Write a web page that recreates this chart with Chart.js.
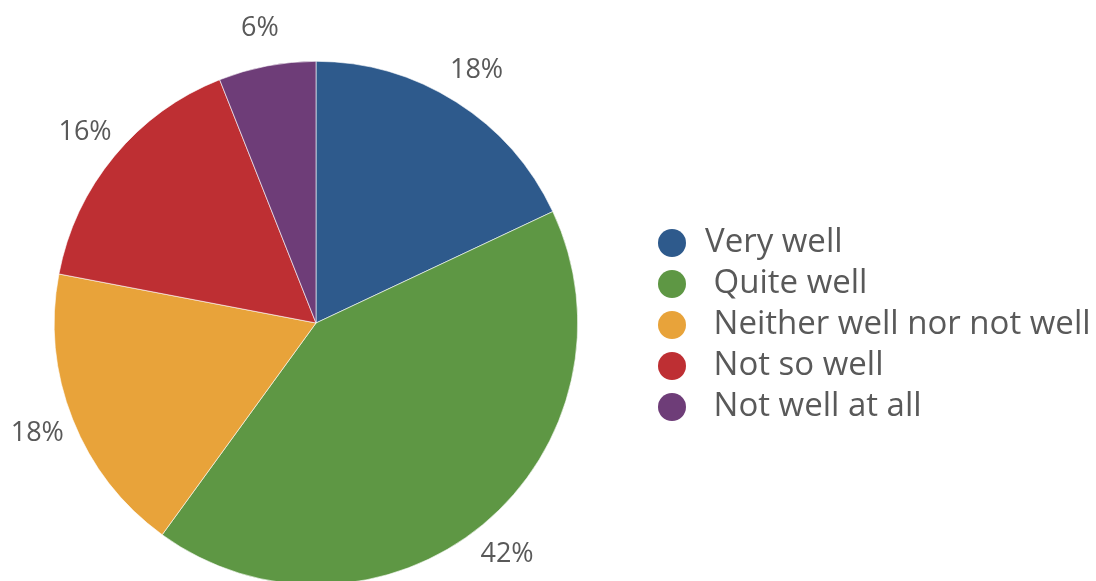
<!DOCTYPE html>
<html>
<head>
<meta charset="utf-8">
<title>How well</title>
<script src="https://cdn.jsdelivr.net/npm/chart.js@4/dist/chart.umd.min.js"></script>
<style>
  html, body { margin: 0; padding: 0; background: #fff; overflow: hidden; }
  #wrap { width: 1096px; height: 600px; }
</style>
</head>
<body>
<div id="wrap"><canvas id="grafico" width="1096" height="600"></canvas></div>
<script>
// Respuestas (porcentaje)
const categorias = ['Very well', ' Quite well', ' Neither well nor not well', ' Not so well', ' Not well at all'];
const valores = [18, 42, 18, 16, 6];
const colores = ['#2E5A8C', '#5E9744', '#E8A33A', '#BE2F33', '#6E3D78'];

const colorTexto = '#595959';

// Etiquetas de porcentaje fuera de cada sector
const etiquetasPorcentaje = {
    id: 'etiquetasPorcentaje',
    afterDatasetsDraw(chart) {
        const ctx = chart.ctx;
        const meta = chart.getDatasetMeta(0);
        const total = valores.reduce((a, b) => a + b, 0);
        ctx.save();
        ctx.font = '27px "Open Sans"';
        ctx.fillStyle = colorTexto;
        ctx.textAlign = 'center';
        ctx.textBaseline = 'middle';
        meta.data.forEach((arc, i) => {
            const p = arc.getProps(['x', 'y', 'startAngle', 'endAngle', 'outerRadius'], true);
            const medio = (p.startAngle + p.endAngle) / 2;
            const r = p.outerRadius + 38;
            const texto = Math.round(valores[i] / total * 100) + '%';
            ctx.fillText(texto, p.x + Math.cos(medio) * r, p.y + Math.sin(medio) * r);
        });
        ctx.restore();
    }
};

// Leyenda a la derecha con marcadores circulares
const leyenda = {
    id: 'leyenda',
    afterDraw(chart) {
        const ctx = chart.ctx;
        ctx.save();
        ctx.font = '33px "Open Sans"';
        ctx.textBaseline = 'middle';
        ctx.textAlign = 'left';
        chart.data.labels.forEach((etiqueta, i) => {
            const y = 243 + i * 41;
            ctx.beginPath();
            ctx.arc(672, y, 14, 0, Math.PI * 2);
            ctx.fillStyle = colores[i];
            ctx.fill();
            ctx.fillStyle = colorTexto;
            ctx.fillText(etiqueta, 705, y);
        });
        ctx.restore();
    }
};

const ctx = document.getElementById('grafico').getContext('2d');

new Chart(ctx, {
    type: 'pie',
    data: {
        labels: categorias,
        datasets: [{
            data: valores,
            backgroundColor: colores,
            borderColor: '#ffffff',
            borderWidth: 0.6
        }]
    },
    options: {
        responsive: false,
        animation: false,
        layout: {
            padding: { left: 54, top: 61, right: 518, bottom: 15 }
        },
        plugins: {
            legend: { display: false },
            tooltip: { enabled: false }
        }
    },
    plugins: [etiquetasPorcentaje, leyenda]
});
</script>
</body>
</html>
